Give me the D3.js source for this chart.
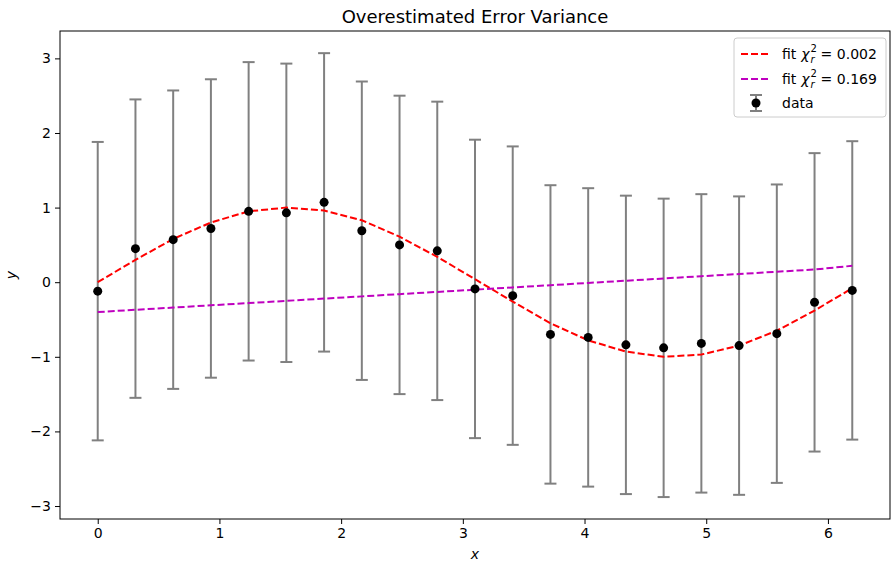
<!DOCTYPE html>
<html>
<head>
<meta charset="utf-8">
<script src="https://cdn.jsdelivr.net/npm/d3@7"></script>
<style>
  body { margin: 0; background: #fff; }
  text { font-family: "DejaVu Sans", sans-serif; }
</style>
</head>
<body>
<div id="chart"></div>
<script>
// data
var xs = [0, 0.31, 0.62, 0.93, 1.24, 1.55, 1.86, 2.17, 2.48, 2.79, 3.10,
  3.41, 3.72, 4.03, 4.34, 4.65, 4.96, 5.27, 5.58, 5.89, 6.20];
var ys = [-0.12, 0.45, 0.57, 0.72, 0.95, 0.93, 1.07, 0.69, 0.50, 0.42, -0.09,
  -0.18, -0.70, -0.74, -0.84, -0.88, -0.82, -0.85, -0.69, -0.27, -0.11];
var yErr = [2, 2, 2, 2, 2, 2, 2, 2, 2, 2, 2, 2, 2, 2, 2, 2, 2, 2, 2, 2, 2];
var fitGood = [0, 0.30, 0.58, 0.80, 0.95, 1.00, 0.96, 0.83, 0.61, 0.34, 0.04,
  -0.26, -0.55, -0.78, -0.93, -1.00, -0.97, -0.85, -0.65, -0.38, -0.08];
var fitBad = [-0.40, -0.37, -0.34, -0.31, -0.28, -0.25, -0.22, -0.19, -0.16, -0.13, -0.10,
  -0.07, -0.04, -0.01, 0.02, 0.05, 0.08, 0.11, 0.14, 0.17, 0.22];
var xTicks = [0, 1, 2, 3, 4, 5, 6];
var yTicks = [-3, -2, -1, 0, 1, 2, 3];

var W = 891, H = 563;
var margin = { top: 31, right: 1, bottom: 44, left: 60 },
  width = W - margin.left - margin.right,
  height = H - margin.top - margin.bottom;

var svg = d3.select("#chart").append("svg")
  .attr("width", W).attr("height", H);
var g = svg.append("g")
  .attr("transform", "translate(" + margin.left + "," + margin.top + ")");

var x = d3.scaleLinear().domain([-0.31, 6.51]).range([0, width]);
var y = d3.scaleLinear().domain([-3.174, 3.367]).range([height, 0]);

var minus = function (d) { return d < 0 ? "\u2212" + Math.abs(d) : String(d); };

// axes
var xAxis = g.append("g")
  .attr("transform", "translate(0," + height + ")")
  .call(d3.axisBottom(x).tickValues(xTicks).tickSize(5).tickPadding(4).tickFormat(minus));
var yAxis = g.append("g")
  .call(d3.axisLeft(y).tickValues(yTicks).tickSize(5).tickPadding(4).tickFormat(minus));
[xAxis, yAxis].forEach(function (a) {
  a.select(".domain").remove();
  a.selectAll("line").attr("stroke", "#000").attr("stroke-width", 1);
  a.selectAll("text").style("font-size", "14px").attr("fill", "#000")
    .style("font-family", "DejaVu Sans, sans-serif");
});

// error bars
var eb = g.append("g");
xs.forEach(function (xv, i) {
  var cx = x(xv), top = y(ys[i] + yErr[i]), bot = y(ys[i] - yErr[i]);
  eb.append("line").attr("x1", cx).attr("x2", cx).attr("y1", top).attr("y2", bot)
    .attr("stroke", "#808080").attr("stroke-width", 2);
  [top, bot].forEach(function (yy) {
    eb.append("line").attr("x1", cx - 6).attr("x2", cx + 6).attr("y1", yy).attr("y2", yy)
      .attr("stroke", "#808080").attr("stroke-width", 2);
  });
});

// fit lines
var line = d3.line()
  .x(function (d) { return x(d[0]); })
  .y(function (d) { return y(d[1]); });
g.append("path").datum(xs.map(function (v, i) { return [v, fitGood[i]]; }))
  .attr("d", line).attr("fill", "none").attr("stroke", "#ff0000")
  .attr("stroke-width", 2).attr("stroke-dasharray", "7,3");
g.append("path").datum(xs.map(function (v, i) { return [v, fitBad[i]]; }))
  .attr("d", line).attr("fill", "none").attr("stroke", "#bf00bf")
  .attr("stroke-width", 2).attr("stroke-dasharray", "7,3");

// data points
g.selectAll("circle.pt").data(xs).enter().append("circle")
  .attr("class", "pt")
  .attr("cx", function (d) { return x(d); })
  .attr("cy", function (d, i) { return y(ys[i]); })
  .attr("r", 4.5).attr("fill", "#000");

// frame
g.append("rect").attr("width", width).attr("height", height)
  .attr("fill", "none").attr("stroke", "#000").attr("stroke-width", 1);

// title and labels
svg.append("text").attr("x", margin.left + width / 2).attr("y", 23)
  .attr("text-anchor", "middle").style("font-size", "18px").text("Overestimated Error Variance");
svg.append("text").attr("x", margin.left + width / 2).attr("y", 559)
  .attr("text-anchor", "middle").style("font-size", "14px").style("font-style", "italic").text("x");
svg.append("text").attr("transform", "translate(16," + (margin.top + height / 2) + ") rotate(-90)")
  .attr("text-anchor", "middle").style("font-size", "14px").style("font-style", "italic").text("y");

// legend
var lg = svg.append("g").attr("transform", "translate(734,38)");
lg.append("rect").attr("width", 152).attr("height", 79).attr("rx", 3)
  .attr("fill", "#fff").attr("fill-opacity", 0.8).attr("stroke", "#ccc");
var items = [
  { color: "#ff0000", label: "0.002" },
  { color: "#bf00bf", label: "0.169" }
];
function piece(px, py, str, size, italic) {
  var t = lg.append("text").attr("x", px).attr("y", py)
    .style("font-size", size + "px").text(str);
  if (italic) t.style("font-style", "italic");
  return px + t.node().getComputedTextLength();
}
items.forEach(function (it, i) {
  var yy = 16 + i * 25;
  lg.append("line").attr("x1", 7).attr("x2", 37).attr("y1", yy).attr("y2", yy)
    .attr("stroke", it.color).attr("stroke-width", 2).attr("stroke-dasharray", "7,3");
  var px = piece(48, yy + 5, "fit", 14, false) + 5;
  px = piece(px, yy + 5, "\u03c7", 14, true);
  var sx = px + 1;
  piece(sx, yy - 2, "2", 10, false);
  var ex = piece(sx, yy + 9, "r", 10, true);
  piece(Math.max(ex, sx + 6) + 4, yy + 5, "= " + it.label, 14, false);
});
var dy = 65;
lg.append("line").attr("x1", 22).attr("x2", 22).attr("y1", dy - 8).attr("y2", dy + 8)
  .attr("stroke", "#808080").attr("stroke-width", 2);
[dy - 8, dy + 8].forEach(function (v) {
  lg.append("line").attr("x1", 16).attr("x2", 28).attr("y1", v).attr("y2", v)
    .attr("stroke", "#808080").attr("stroke-width", 2);
});
lg.append("circle").attr("cx", 22).attr("cy", dy).attr("r", 4.5).attr("fill", "#000");
lg.append("text").attr("x", 48).attr("y", dy + 5).style("font-size", "14px").text("data");
</script>
</body>
</html>
